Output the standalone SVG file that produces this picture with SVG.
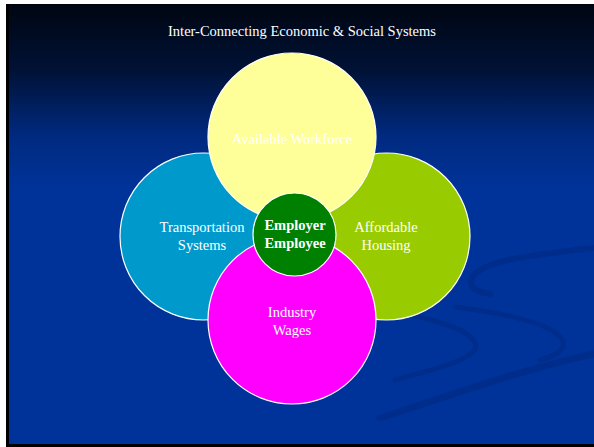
<svg xmlns="http://www.w3.org/2000/svg" width="594" height="447" viewBox="0 0 594 447">
  <defs>
    <linearGradient id="bg" x1="0" y1="0" x2="0" y2="1" gradientUnits="objectBoundingBox">
      <stop offset="0" stop-color="#000612"/>
      <stop offset="0.15" stop-color="#001236"/>
      <stop offset="0.30" stop-color="#002a80"/>
      <stop offset="0.42" stop-color="#003399"/>
      <stop offset="1" stop-color="#003399"/>
    </linearGradient>
    <style>
      .c { stroke: #ffffff; stroke-width: 1.2; }
      .t { font-family: "Liberation Serif", "DejaVu Serif", serif; fill: #ffffff; text-anchor: middle; font-size: 14.5px; }
      .b { font-weight: bold; }
      .sw { fill: none; stroke: #002d8c; stroke-linecap: round; }
    </style>
  </defs>
  <rect x="0" y="0" width="594" height="447" fill="#ffffff"/>
  <rect x="6" y="4" width="588" height="443" fill="#000000"/>
  <rect x="9" y="4.5" width="585" height="439.5" fill="url(#bg)"/>
  <g id="swooshes">
    <path class="sw" stroke-width="6" d="M594,248 C520,256 480,262 472,278 C468,288 478,292 490,294"/>
    <path class="sw" stroke-width="5" d="M455,307 C510,314 555,325 563,341 C566,350 555,356 540,360"/>
    <path class="sw" stroke-width="5" d="M415,316 C450,324 474,333 476,346 C476,358 440,368 395,380"/>
    <path class="sw" stroke-width="7" d="M380,418 C450,395 520,370 594,354"/>
  </g>
  <text class="t" x="302" y="36" font-size="13.7">Inter-Connecting Economic &amp; Social Systems</text>
  <g id="transportation">
    <circle class="c" cx="203.5" cy="236.5" r="83.5" fill="#0099cc"/>
    <text class="t" x="202" y="232">Transportation</text>
    <text class="t" x="202" y="250">Systems</text>
  </g>
  <g id="housing">
    <circle class="c" cx="386.5" cy="236.5" r="83.5" fill="#99cc00"/>
    <text class="t" x="386" y="232">Affordable</text>
    <text class="t" x="386" y="250">Housing</text>
  </g>
  <g id="workforce">
    <circle class="c" cx="292" cy="137" r="84" fill="#ffff99"/>
    <text class="t" x="292" y="144">Available Workforce</text>
  </g>
  <g id="wages">
    <circle class="c" cx="292" cy="320" r="84" fill="#ff00ff"/>
    <text class="t" x="292" y="317">Industry</text>
    <text class="t" x="292" y="335">Wages</text>
  </g>
  <g id="employer">
    <circle class="c" cx="294.5" cy="234.5" r="41.5" fill="#008000"/>
    <text class="t b" x="295" y="230">Employer</text>
    <text class="t b" x="295" y="248">Employee</text>
  </g>
</svg>
